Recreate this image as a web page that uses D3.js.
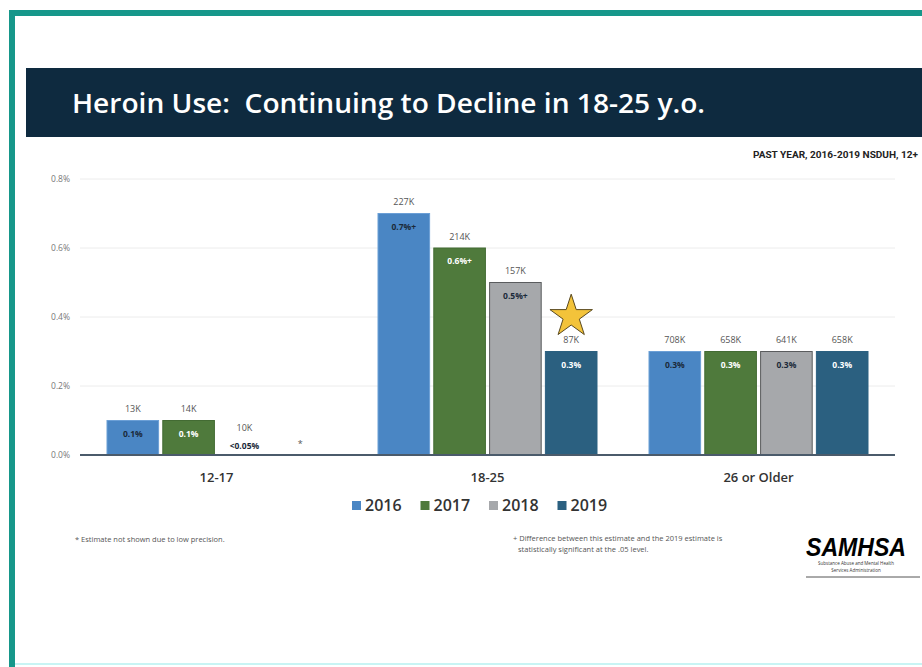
<!DOCTYPE html>
<html>
<head>
<meta charset="utf-8">
<script src="https://cdn.jsdelivr.net/npm/d3@7"></script>
<style>
  html, body { margin: 0; padding: 0; background: #ffffff; }
  svg { display: block; font-family: "Open Sans", "Noto Sans", sans-serif; }
</style>
</head>
<body>
<svg id="chart" width="922" height="667"></svg>
<script>
// ---- data ----
const categories = ["12-17", "18-25", "26 or Older"];
const years = ["2016", "2017", "2018", "2019"];
// percent values (null = not drawn as bar)
const values2016 = [0.1, 0.7, 0.3];
const values2017 = [0.1, 0.6, 0.3];
const values2018 = [null, 0.5, 0.3];
const values2019 = [null, 0.3, 0.3];
// count labels above bars
const counts2016 = ["13K", "227K", "708K"];
const counts2017 = ["14K", "214K", "658K"];
const counts2018 = ["10K", "157K", "641K"];
const counts2019 = ["", "87K", "658K"];
// in-bar percentage labels
const pct2016 = ["0.1%", "0.7%+", "0.3%"];
const pct2017 = ["0.1%", "0.6%+", "0.3%"];
const pct2018 = ["<0.05%", "0.5%+", "0.3%"];
const pct2019 = ["*", "0.3%", "0.3%"];
const yTicks = [0, 0.2, 0.4, 0.6, 0.8];

const seriesValues = [values2016, values2017, values2018, values2019];
const seriesCounts = [counts2016, counts2017, counts2018, counts2019];
const seriesPct = [pct2016, pct2017, pct2018, pct2019];

const fillColors = ["#4a86c4", "#4f7a3c", "#a6a8ab", "#2b6080"];
const strokeColors = ["#6b9fd6", "#436b33", "#5a5c5e", "#2b6080"];
const pctTextColors = ["#1b2a3a", "#ffffff", "#1b2a3a", "#ffffff"];

const svg = d3.select("#chart");

// frame
svg.append("rect").attr("x", 0).attr("y", 0).attr("width", 922).attr("height", 667).attr("fill", "#fff");
svg.append("rect").attr("x", 9).attr("y", 10).attr("width", 913).attr("height", 6).attr("fill", "#16978a");
svg.append("rect").attr("x", 9).attr("y", 10).attr("width", 6).attr("height", 657).attr("fill", "#16978a");
svg.append("rect").attr("x", 15).attr("y", 663).attr("width", 907).attr("height", 2).attr("fill", "#c8f4f4");

// title bar
svg.append("rect").attr("x", 26).attr("y", 68).attr("width", 896).attr("height", 69).attr("fill", "#0e2a3f");
svg.append("text").attr("x", 72).attr("y", 113)
  .attr("fill", "#ffffff").attr("font-size", 27).attr("font-weight", 600)
  .attr("font-family", "'Open Sans', sans-serif")
  .attr("xml:space", "preserve")
  .attr("textLength", 633).attr("lengthAdjust", "spacingAndGlyphs")
  .text("Heroin Use:  Continuing to Decline in 18-25 y.o.");

svg.append("text").attr("x", 918).attr("y", 158).attr("text-anchor", "end")
  .attr("fill", "#222").attr("font-size", 8.5).attr("font-weight", 700)
  .attr("font-family", "'Liberation Sans Narrow', 'Roboto', sans-serif")
  .attr("textLength", 165).attr("lengthAdjust", "spacingAndGlyphs")
  .text("PAST YEAR, 2016-2019 NSDUH, 12+");

// scales
const x0 = d3.scaleBand().domain(categories).range([81, 894]).padding(0);
const x1 = d3.scaleBand().domain(years).range([26, 245]).paddingInner(0.075);
const y = d3.scaleLinear().domain([0, 0.8]).range([455, 179]);

// grid
const gridG = svg.append("g");
gridG.selectAll("line").data(yTicks.filter(d => d > 0)).join("line")
  .attr("x1", 80).attr("x2", 895)
  .attr("y1", d => y(d)).attr("y2", d => y(d))
  .attr("stroke", "#ececec").attr("stroke-width", 1);

// y axis (labels only)
const yAxis = d3.axisLeft(y).tickValues(yTicks).tickFormat(d => d.toFixed(1) + "%").tickSize(0).tickPadding(0);
const yG = svg.append("g").attr("transform", "translate(70,0)").call(yAxis);
yG.select(".domain").remove();
yG.selectAll("text").attr("fill", "#777").attr("font-size", 8.5).attr("font-family", "'Open Sans', sans-serif");

// bars
const groups = svg.append("g").selectAll("g").data(categories).join("g")
  .attr("transform", d => `translate(${x0(d)},0)`);

groups.each(function(cat, ci) {
  const g = d3.select(this);
  years.forEach((yr, si) => {
    const v = seriesValues[si][ci];
    const bx = x1(yr);
    const bw = x1.bandwidth();
    const cx = bx + bw / 2;
    if (v !== null) {
      g.append("rect")
        .attr("x", bx).attr("y", y(v))
        .attr("width", bw).attr("height", y(0) - y(v))
        .attr("fill", fillColors[si])
        .attr("stroke", strokeColors[si]).attr("stroke-width", 1);
      g.append("text").attr("x", cx).attr("y", y(v) - 8.5)
        .attr("text-anchor", "middle").attr("fill", "#555").attr("font-size", 9)
        .text(seriesCounts[si][ci]);
      g.append("text").attr("x", cx).attr("y", y(v) + 16)
        .attr("text-anchor", "middle").attr("fill", pctTextColors[si])
        .attr("font-size", 8.5).attr("font-weight", 700)
        .text(seriesPct[si][ci]);
    } else {
      const lbl = seriesPct[si][ci];
      if (lbl === "*") {
        g.append("text").attr("x", cx).attr("y", 447)
          .attr("text-anchor", "middle").attr("fill", "#555").attr("font-size", 9)
          .text("*");
      } else {
        g.append("text").attr("x", cx).attr("y", 431)
          .attr("text-anchor", "middle").attr("fill", "#555").attr("font-size", 9)
          .text(seriesCounts[si][ci]);
        g.append("text").attr("x", cx).attr("y", 449)
          .attr("text-anchor", "middle").attr("fill", "#1b2a3a")
          .attr("font-size", 8.5).attr("font-weight", 700)
          .text(lbl);
      }
    }
  });
});

// star above 18-25 / 2019
(function() {
  const cx = x0("18-25") + x1("2019") + x1.bandwidth() / 2;
  const cy = y(0.3) - 35;
  const star = d3.symbol().type(d3.symbolStar).size(560);
  svg.append("path").attr("d", star())
    .attr("transform", `translate(${cx},${cy})`)
    .attr("fill", "#f3c33a").attr("stroke", "#5a4a20").attr("stroke-width", 1);
})();

// baseline
svg.append("line").attr("x1", 80).attr("x2", 895).attr("y1", y(0)).attr("y2", y(0))
  .attr("stroke", "#4b5b6b").attr("stroke-width", 2);

// category labels
const xAxis = d3.axisBottom(x0).tickSize(0).tickPadding(0);
const xG = svg.append("g").attr("transform", "translate(0,473)").call(xAxis);
xG.select(".domain").remove();
xG.selectAll("text").attr("fill", "#333").attr("font-size", 13).attr("font-weight", 600)
  .attr("font-family", "'Open Sans', sans-serif").attr("dy", "0.71em");

// legend
const legend = svg.append("g").attr("transform", "translate(352,0)");
years.forEach((yr, i) => {
  const lx = i * 68.5;
  legend.append("rect").attr("x", lx).attr("y", 501).attr("width", 9).attr("height", 9)
    .attr("fill", fillColors[i]);
  legend.append("text").attr("x", lx + 13).attr("y", 511)
    .attr("fill", "#333").attr("font-size", 16).attr("font-weight", 600)
    .attr("font-family", "'Open Sans', sans-serif")
    .text(yr);
});

// footnotes
svg.append("text").attr("x", 75).attr("y", 542).attr("fill", "#555").attr("font-size", 7.5)
  .text("* Estimate not shown due to low precision.");
svg.append("text").attr("x", 513).attr("y", 541).attr("fill", "#555").attr("font-size", 7.5)
  .text("+ Difference between this estimate and the 2019 estimate is");
svg.append("text").attr("x", 518).attr("y", 552).attr("fill", "#555").attr("font-size", 7.5)
  .text("statistically significant at the .05 level.");

// SAMHSA logo
svg.append("text").attr("x", 856).attr("y", 556).attr("text-anchor", "middle")
  .attr("fill", "#000").attr("font-size", 25).attr("font-weight", 700).attr("font-style", "italic")
  .attr("font-family", "'Liberation Sans', Arial, sans-serif")
  .attr("textLength", 100).attr("lengthAdjust", "spacingAndGlyphs")
  .text("SAMHSA");
svg.append("text").attr("x", 856).attr("y", 565).attr("text-anchor", "middle")
  .attr("fill", "#333").attr("font-size", 4.5).text("Substance Abuse and Mental Health");
svg.append("text").attr("x", 856).attr("y", 572).attr("text-anchor", "middle")
  .attr("fill", "#333").attr("font-size", 4.5).text("Services Administration");
svg.append("line").attr("x1", 806).attr("x2", 920).attr("y1", 577).attr("y2", 577)
  .attr("stroke", "#555").attr("stroke-width", 1);
</script>
</body>
</html>
